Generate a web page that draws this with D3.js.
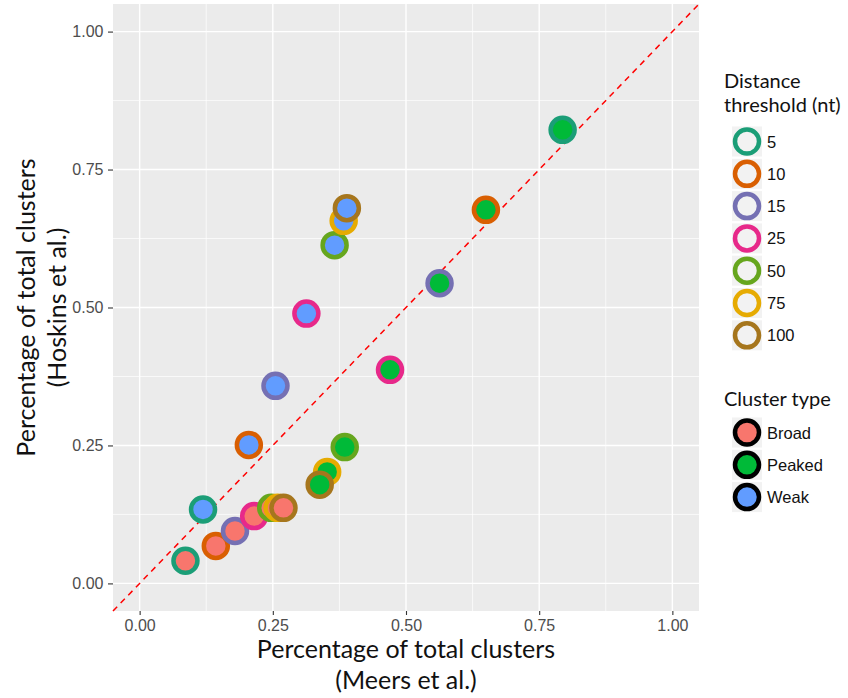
<!DOCTYPE html>
<html>
<head>
<meta charset="utf-8">
<script src="https://cdn.jsdelivr.net/npm/d3@7"></script>
<style>
  html, body { margin: 0; padding: 0; background: #ffffff; }
  svg { display: block; }
</style>
</head>
<body>
<svg id="chart" width="848" height="698"></svg>
<script>
// Distance thresholds (nt) and cluster types
const thresholds = ["5", "10", "15", "25", "50", "75", "100"];
const clusterTypes = ["Broad", "Peaked", "Weak"];

// Share of total clusters per threshold, one array per cluster type
// (Meers et al. on x, Hoskins et al. on y)
const broadMeers    = [0.086, 0.143, 0.179, 0.215, 0.247, 0.259, 0.270];
const broadHoskins  = [0.041, 0.068, 0.095, 0.122, 0.137, 0.137, 0.137];
const peakedMeers   = [0.794, 0.650, 0.563, 0.470, 0.385, 0.352, 0.338];
const peakedHoskins = [0.822, 0.677, 0.544, 0.387, 0.247, 0.202, 0.179];
const weakMeers     = [0.119, 0.205, 0.255, 0.313, 0.366, 0.383, 0.389];
const weakHoskins   = [0.134, 0.251, 0.358, 0.489, 0.613, 0.657, 0.680];

const axisTicks = [0, 0.25, 0.5, 0.75, 1];
const minorTicks = [0.125, 0.375, 0.625, 0.875];

const thresholdColors = ["#1B9E77", "#D95F02", "#7570B3", "#E7298A", "#66A61E", "#E6AB02", "#A6761D"];
const typeColors = ["#F8766D", "#00BA38", "#619CFF"];

const seriesX = [broadMeers, peakedMeers, weakMeers];
const seriesY = [broadHoskins, peakedHoskins, weakHoskins];
const points = [];
clusterTypes.forEach((t, ti) => {
  thresholds.forEach((th, i) => {
    points.push({ type: t, threshold: th, x: seriesX[ti][i], y: seriesY[ti][i] });
  });
});

const svg = d3.select("#chart");
const panel = { left: 113, right: 699, top: 4, bottom: 611 };

const x = d3.scaleLinear().domain([-0.05, 1.05]).range([panel.left, panel.right]);
const y = d3.scaleLinear().domain([-0.05, 1.05]).range([panel.bottom, panel.top]);
const strokeScale = d3.scaleOrdinal().domain(thresholds).range(thresholdColors);
const fillScale = d3.scaleOrdinal().domain(clusterTypes).range(typeColors);

// Panel background
svg.append("rect")
  .attr("x", panel.left).attr("y", panel.top)
  .attr("width", panel.right - panel.left).attr("height", panel.bottom - panel.top)
  .attr("fill", "#EBEBEB");

const grid = svg.append("g");
// minor grid
grid.selectAll(".vminor").data(minorTicks).enter().append("line")
  .attr("x1", d => x(d)).attr("x2", d => x(d))
  .attr("y1", panel.top).attr("y2", panel.bottom)
  .attr("stroke", "#ffffff").attr("stroke-width", 0.7);
grid.selectAll(".hminor").data(minorTicks).enter().append("line")
  .attr("y1", d => y(d)).attr("y2", d => y(d))
  .attr("x1", panel.left).attr("x2", panel.right)
  .attr("stroke", "#ffffff").attr("stroke-width", 0.7);
// major grid
grid.selectAll(".vmajor").data(axisTicks).enter().append("line")
  .attr("x1", d => x(d)).attr("x2", d => x(d))
  .attr("y1", panel.top).attr("y2", panel.bottom)
  .attr("stroke", "#ffffff").attr("stroke-width", 1.4);
grid.selectAll(".hmajor").data(axisTicks).enter().append("line")
  .attr("y1", d => y(d)).attr("y2", d => y(d))
  .attr("x1", panel.left).attr("x2", panel.right)
  .attr("stroke", "#ffffff").attr("stroke-width", 1.4);

// Identity line y = x
svg.append("line")
  .attr("x1", x(-0.05)).attr("y1", y(-0.05))
  .attr("x2", x(1.05)).attr("y2", y(1.05))
  .attr("stroke", "#FF0000").attr("stroke-width", 1.5)
  .attr("stroke-dasharray", "6,5");

// Points
svg.append("g").selectAll("circle").data(points).enter().append("circle")
  .attr("cx", d => x(d.x)).attr("cy", d => y(d.y))
  .attr("r", 12)
  .attr("fill", d => fillScale(d.type))
  .attr("stroke", d => strokeScale(d.threshold))
  .attr("stroke-width", 4.5);

// Axes
const fmt = d3.format(".2f");
const xAxis = svg.append("g")
  .attr("transform", `translate(0,${panel.bottom})`)
  .call(d3.axisBottom(x).tickValues(axisTicks).tickFormat(fmt).tickSize(4).tickPadding(5));
const yAxis = svg.append("g")
  .attr("transform", `translate(${panel.left},0)`)
  .call(d3.axisLeft(y).tickValues(axisTicks).tickFormat(fmt).tickSize(5).tickPadding(4.5));
[xAxis, yAxis].forEach(a => {
  a.select(".domain").remove();
  a.selectAll(".tick line").attr("stroke", "#333333").attr("stroke-width", 1.1);
  a.selectAll(".tick text")
    .attr("fill", "#4D4D4D")
    .style("font-family", "'Liberation Sans', Arial, sans-serif")
    .style("font-size", "16px");
});

const titleFont = "Lato, 'Noto Sans', sans-serif";
// x-axis title
const xt = svg.append("text")
  .attr("text-anchor", "middle")
  .style("font-family", titleFont).style("font-size", "25px").attr("fill", "#111");
xt.append("tspan").attr("x", (panel.left + panel.right) / 2).attr("y", 658).text("Percentage of total clusters");
xt.append("tspan").attr("x", (panel.left + panel.right) / 2).attr("y", 689).text("(Meers et al.)");

// y-axis title
const cy = (panel.top + panel.bottom) / 2;
const yt = svg.append("text")
  .attr("text-anchor", "middle")
  .attr("transform", "rotate(-90)")
  .style("font-family", titleFont).style("font-size", "25px").attr("fill", "#111");
yt.append("tspan").attr("x", -cy).attr("y", 35).text("Percentage of total clusters");
yt.append("tspan").attr("x", -cy).attr("y", 66).text("(Hoskins et al.)");

// Legends
const legendTitleFont = titleFont;
const labelFont = "'Liberation Sans', Arial, sans-serif";
const keyX = 732, keySize = 30, keyStep = 32.3;

const lg1 = svg.append("g");
const lt1 = lg1.append("text").style("font-family", legendTitleFont).style("font-size", "20px").attr("fill", "#111");
lt1.append("tspan").attr("x", 724).attr("y", 88).text("Distance");
lt1.append("tspan").attr("x", 724).attr("y", 112).text("threshold (nt)");
thresholds.forEach((th, i) => {
  const cyK = 141.5 + i * keyStep;
  lg1.append("rect").attr("x", keyX).attr("y", cyK - keySize / 2)
    .attr("width", keySize).attr("height", keySize).attr("fill", "#F2F2F2");
  lg1.append("circle").attr("cx", keyX + keySize / 2).attr("cy", cyK).attr("r", 12)
    .attr("fill", "none").attr("stroke", strokeScale(th)).attr("stroke-width", 4.5);
  lg1.append("text").attr("x", 767).attr("y", cyK + 6)
    .style("font-family", labelFont).style("font-size", "16.5px").attr("fill", "#111").text(th);
});

const lg2 = svg.append("g");
lg2.append("text").attr("x", 724).attr("y", 406)
  .style("font-family", legendTitleFont).style("font-size", "20px").attr("fill", "#111").text("Cluster type");
clusterTypes.forEach((t, i) => {
  const cyK = 432.5 + i * keyStep;
  lg2.append("rect").attr("x", keyX).attr("y", cyK - keySize / 2)
    .attr("width", keySize).attr("height", keySize).attr("fill", "#F2F2F2");
  lg2.append("circle").attr("cx", keyX + keySize / 2).attr("cy", cyK).attr("r", 12)
    .attr("fill", fillScale(t)).attr("stroke", "#000000").attr("stroke-width", 4.5);
  lg2.append("text").attr("x", 767).attr("y", cyK + 6)
    .style("font-family", labelFont).style("font-size", "16.5px").attr("fill", "#111").text(t);
});
</script>
</body>
</html>
